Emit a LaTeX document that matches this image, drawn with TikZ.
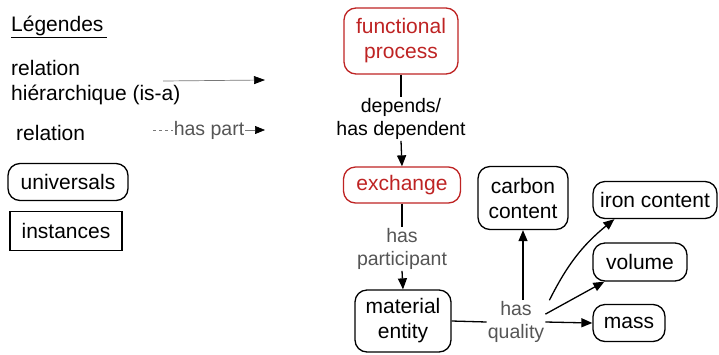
\documentclass[tikz,border=0pt]{standalone}
\usepackage{fontspec}
\setmainfont{Liberation Sans}
\usetikzlibrary{arrows.meta,positioning}
\definecolor{procred}{RGB}{190,35,35}
\definecolor{labgray}{RGB}{85,85,85}
\definecolor{isagray}{RGB}{120,120,120}

\begin{document}
\begin{tikzpicture}[x=1pt,y=-1pt,
    font=\fontsize{21}{25}\selectfont,
    >={Triangle[length=11pt,width=9pt]},
    univ/.style={draw,rounded corners=12pt,line width=1.3pt,align=center,inner sep=1pt},
    inst/.style={draw,line width=1.3pt,align=center,inner sep=1pt},
    fproc/.style={univ,draw=procred,text=procred},
    lab/.style={text=labgray,align=center,inner sep=1pt,font=\fontsize{19.5}{23}\selectfont},
    conn/.style={line width=1.3pt}]
  \useasboundingbox (0,0) rectangle (719,354);
  % legend
  \node[anchor=west,inner sep=0pt] (leg) at (11,27) {\underline{Légendes\,}};
  \node[anchor=west,align=left,inner sep=0pt] (isatxt) at (11,83) {relation\\hiérarchique (is-a)};
  \node[anchor=west,inner sep=0pt] (reltxt) at (16,133) {relation};
  \coordinate (isa1) at (163,81);
  \coordinate (isa2) at (265,80);
  \draw[isagray,line width=0.7pt,-{Triangle[length=11pt,width=8pt,color=black]}] (isa1) -- (isa2);
  \node[lab] (hp) at (209,130) {has part};
  \coordinate (hp1) at (153,130);
  \coordinate (hp2) at (265,130);
  \draw[isagray,dashed,line width=0.7pt] (hp1) -- (hp.west);
  \draw[isagray,line width=0.7pt,-{Triangle[length=10pt,width=8pt,color=black]}] (hp.east) -- (hp2);
  \node[univ,minimum width=120pt,minimum height=37pt] (univ) at (68,182) {universals};
  \node[inst,minimum width=112pt,minimum height=39pt] (inst) at (66,231) {instances};

  % process chain
  \node[fproc,minimum width=114pt,minimum height=66pt] (fp) at (401,41) {functional\\process};
  \node[align=center,inner sep=1pt,font=\fontsize{19.5}{23}\selectfont] (dep) at (401,119) {depends/\\has dependent};
  \node[fproc,minimum width=117pt,minimum height=36pt] (ex) at (402,185) {exchange};
  \node[lab] (hpart) at (402,249) {has\\participant};
  \node[univ,minimum width=96pt,minimum height=62pt] (me) at (403,321) {material\\entity};
  \draw[conn] (fp.south) -- (dep.north);
  \draw[conn,->] (dep.south) -- (ex.north);
  \draw[conn] (ex.south) -- (hpart.north);
  \draw[conn,->] (hpart.south) -- (me.north);

  % qualities
  \node[lab] (hq) at (516,322) {has\\quality};
  \node[univ,minimum width=90pt,minimum height=63pt] (carbon) at (523,198) {carbon\\content};
  \node[univ,minimum width=124pt,minimum height=37pt] (iron) at (655,200) {iron content};
  \node[univ,minimum width=94pt,minimum height=38pt] (volume) at (640,262) {volume};
  \node[univ,minimum width=72pt,minimum height=37pt] (mass) at (629,323) {mass};
  \draw[conn] (me.east) -- (hq.west);
  \draw[conn,->] (carbon.south |- hq.north) -- (carbon.south);
  \draw[conn,->] ([xshift=4pt]hq.north east) to[bend left=12] ([xshift=22pt]iron.south west);
  \draw[conn,->] (hq.15) -- ([xshift=12pt]volume.south west);
  \draw[conn,->] (hq.east) -- (mass.west);
\end{tikzpicture}
\end{document}
